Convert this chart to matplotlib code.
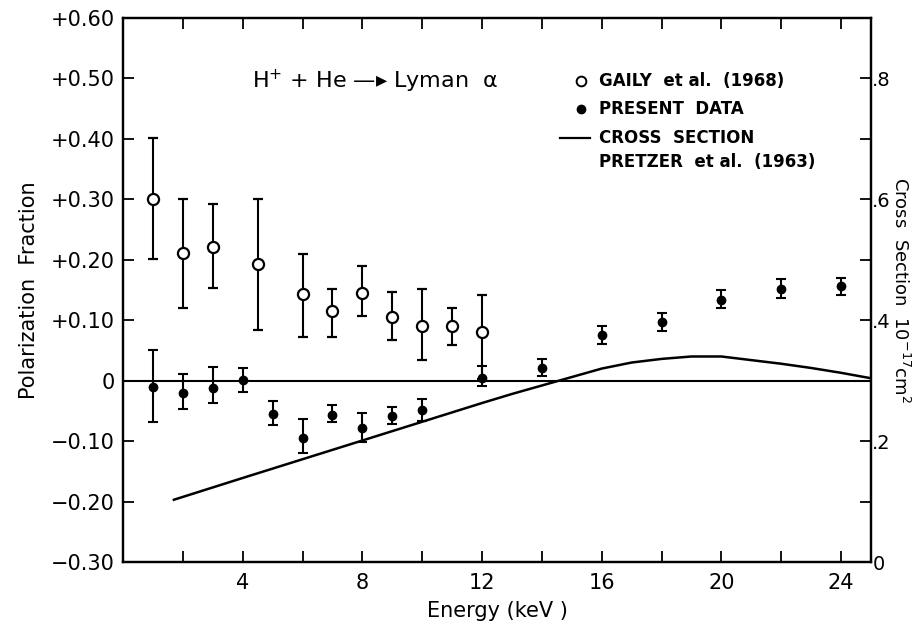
"""
Polarization fraction of Lyman-alpha from H+ + He, with the
Pretzer et al. (1963) cross section on the right-hand axis.
"""

import numpy as np
import matplotlib
matplotlib.use("Agg")
import matplotlib.pyplot as plt
from matplotlib.ticker import MultipleLocator, FixedLocator

# ── data ─────────────────────────────────────────────────────────────────────
# Gaily et al. (1968), open circles
gaily_e    = [1, 2, 3, 4.5, 6, 7, 8, 9, 10, 11, 12]
gaily_p    = [0.300, 0.211, 0.221, 0.193, 0.143, 0.116, 0.145, 0.106, 0.091, 0.091, 0.080]
gaily_lo   = [0.202, 0.121, 0.153, 0.083, 0.072, 0.073, 0.107, 0.068, 0.034, 0.059, 0.002]
gaily_hi   = [0.402, 0.300, 0.292, 0.301, 0.210, 0.152, 0.190, 0.146, 0.152, 0.121, 0.141]

# present data, filled circles
present_e  = [1, 2, 3, 4, 5, 6, 7, 8, 9, 10, 12, 14, 16, 18, 20, 22, 24]
present_p  = [-0.010, -0.020, -0.012, 0.001, -0.055, -0.095, -0.056, -0.078, -0.059, -0.048,
              0.005, 0.021, 0.076, 0.097, 0.134, 0.152, 0.156]
present_lo = [-0.068, -0.047, -0.037, -0.018, -0.074, -0.119, -0.069, -0.101, -0.072, -0.066,
              -0.009, 0.008, 0.060, 0.082, 0.120, 0.136, 0.142]
present_hi = [0.051, 0.011, 0.022, 0.021, -0.033, -0.064, -0.041, -0.053, -0.044, -0.030,
              0.024, 0.036, 0.090, 0.112, 0.150, 0.168, 0.170]

# cross section, Pretzer et al. (1963), in 1e-17 cm^2 (right axis)
cs_e = [1.7, 4, 6, 8, 10, 12, 13, 14, 15, 16, 17, 18, 19, 20, 21, 22, 23, 24, 25]
cs_v = [0.103, 0.139, 0.170, 0.201, 0.232, 0.263, 0.278, 0.292, 0.306, 0.320,
        0.330, 0.336, 0.340, 0.340, 0.334, 0.328, 0.321, 0.313, 0.304]

left_ticks  = [-0.3, -0.2, -0.1, 0.0, 0.1, 0.2, 0.3, 0.4, 0.5, 0.6]
left_labels = ["\u22120.30", "\u22120.20", "\u22120.10", "0", "+0.10", "+0.20",
               "+0.30", "+0.40", "+0.50", "+0.60"]
right_ticks  = [0.0, 0.2, 0.4, 0.6, 0.8]
right_labels = ["0", ".2", ".4", ".6", ".8"]
x_labels     = [4, 8, 12, 16, 20, 24]

FS = 15
LEG_FS = 12
plt.rcParams["font.family"] = ["DejaVu Sans"]

fig = plt.figure(figsize=(9.2, 6.25), dpi=100)
ax = fig.add_axes([0.1337, 0.1008, 0.8130, 0.8704])
ax2 = ax.twinx()

# ── polarization data ────────────────────────────────────────────────────────
g_p = np.array(gaily_p)
ax.errorbar(gaily_e, g_p, yerr=[g_p - np.array(gaily_lo), np.array(gaily_hi) - g_p],
            fmt="o", ms=8, mfc="white", mec="black", mew=1.6, ecolor="black",
            elinewidth=1.5, capsize=3.5, capthick=1.5, zorder=5)

p_p = np.array(present_p)
ax.errorbar(present_e, p_p, yerr=[p_p - np.array(present_lo), np.array(present_hi) - p_p],
            fmt="o", ms=6, mfc="black", mec="black", ecolor="black",
            elinewidth=1.5, capsize=3.5, capthick=1.5, zorder=5)

ax.axhline(0, color="black", lw=1.5, zorder=2)

# ── cross section on right axis ──────────────────────────────────────────────
ax2.plot(cs_e, cs_v, color="black", lw=1.8)

# ── axes ─────────────────────────────────────────────────────────────────────
ax.set_xlim(0, 25)
ax.set_ylim(-0.3, 0.6)
ax2.set_ylim(0, 0.9)

ax.xaxis.set_major_locator(FixedLocator(x_labels))
ax.xaxis.set_minor_locator(MultipleLocator(2))
ax.set_yticks(left_ticks)
ax.set_yticklabels(left_labels)
ax2.set_yticks(right_ticks)
ax2.set_yticklabels(right_labels)
ax2.yaxis.set_minor_locator(MultipleLocator(0.1))

ax.tick_params(axis="x", which="both", direction="in", length=8, width=1.3,
               top=True, labelsize=FS, pad=8)
ax.tick_params(axis="y", which="both", direction="in", length=8, width=1.3,
               right=False, labelsize=FS, pad=6)
ax2.tick_params(axis="y", which="both", direction="in", length=8, width=1.3,
                labelsize=14, pad=1)

for a in (ax, ax2):
    for s in a.spines.values():
        s.set_linewidth(1.6)

ax.set_xlabel("Energy (keV )", fontsize=FS, labelpad=6)
ax.set_ylabel("Polarization  Fraction", fontsize=FS, labelpad=8)
ax2.set_ylabel("Cross  Section  10$^{-17}$cm$^{2}$", fontsize=13, rotation=270,
               labelpad=14)

# ── annotations / hand-drawn legend ──────────────────────────────────────────
ax.text(4.3, 0.495, "H$^{+}$ + He \u2014\u25b8 Lyman  \u03b1", fontsize=FS + 1,
        va="center", ha="left")

ax.plot([15.3], [0.495], "o", ms=7, mfc="white", mec="black", mew=1.4)
ax.text(15.9, 0.495, "GAILY  et al.  (1968)", fontsize=LEG_FS, fontweight="bold",
        va="center", ha="left")
ax.plot([15.3], [0.449], "o", ms=6, mfc="black", mec="black")
ax.text(15.9, 0.449, "PRESENT  DATA", fontsize=LEG_FS, fontweight="bold",
        va="center", ha="left")
ax.plot([14.6, 15.6], [0.402, 0.402], color="black", lw=1.6)
ax.text(15.9, 0.402, "CROSS  SECTION", fontsize=LEG_FS, fontweight="bold",
        va="center", ha="left")
ax.text(15.9, 0.362, "PRETZER  et al.  (1963)", fontsize=LEG_FS, fontweight="bold",
        va="center", ha="left")

fig.savefig("out.png", dpi=100)
